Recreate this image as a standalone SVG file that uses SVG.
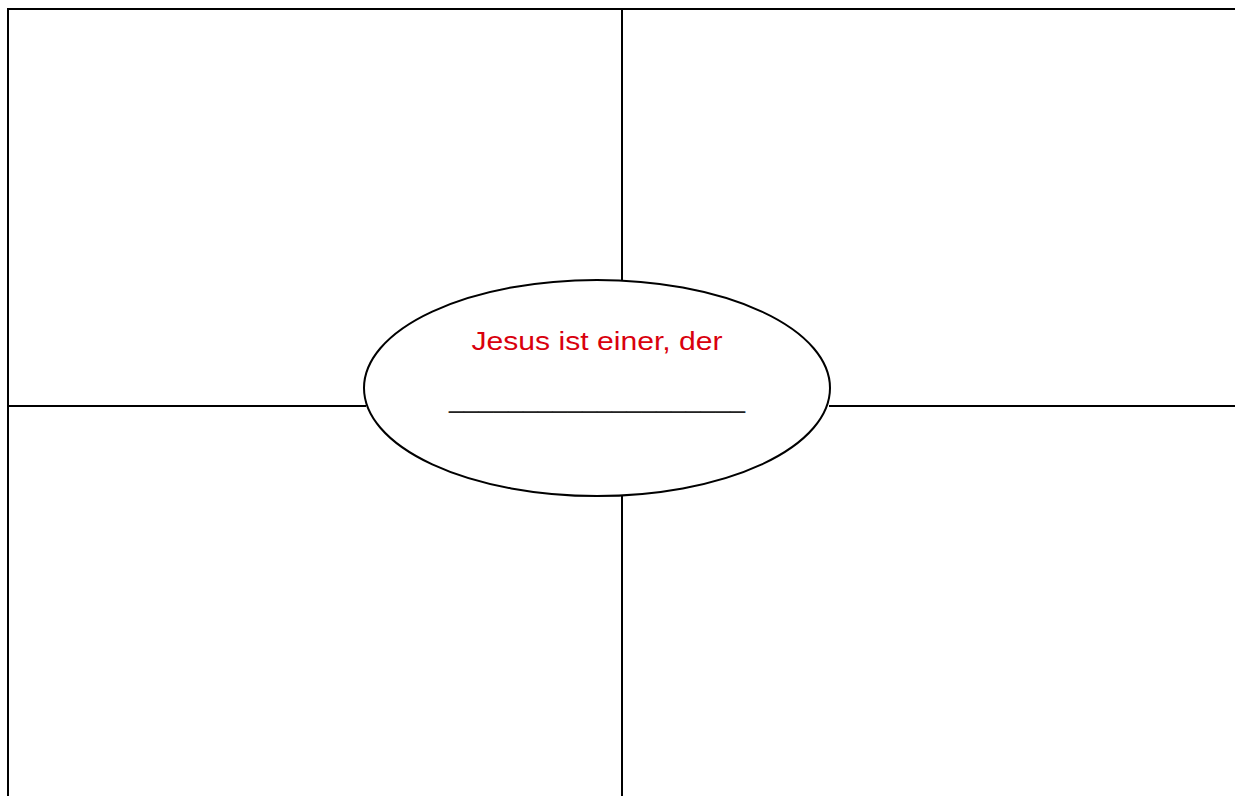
<svg xmlns="http://www.w3.org/2000/svg" width="1235" height="796" viewBox="0 0 1235 796">
<style>
.ln{stroke:#000;stroke-width:2;fill:none}
.lbl{font-family:"Century Gothic","URW Gothic","Liberation Sans",sans-serif;font-size:26px;text-anchor:middle}
</style>
<rect width="1235" height="796" fill="#fff"/>
<g id="grid">
<line class="ln" x1="8" y1="9" x2="1235" y2="9"/>
<line class="ln" x1="8" y1="8" x2="8" y2="796"/>
<line class="ln" x1="622" y1="9" x2="622" y2="282"/>
<line class="ln" x1="622" y1="495" x2="622" y2="796"/>
<line class="ln" x1="8" y1="406" x2="366" y2="406"/>
<line class="ln" x1="829" y1="406" x2="1235" y2="406"/>
</g>
<g id="center">
<ellipse cx="597" cy="388" rx="233" ry="108" fill="#fff" stroke="#000" stroke-width="2"/>
<text class="lbl" x="597" y="350" fill="#d9000d" textLength="251" lengthAdjust="spacingAndGlyphs">Jesus ist einer, der</text>
<text class="lbl" x="597" y="408" fill="#222" textLength="296" lengthAdjust="spacingAndGlyphs">____________________</text>
</g>
</svg>
